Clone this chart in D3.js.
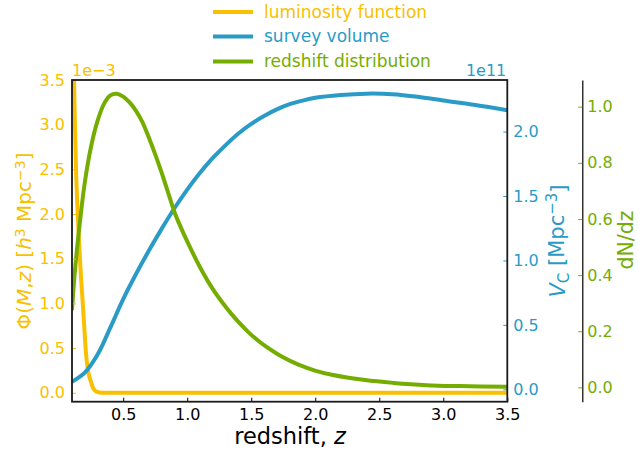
<!DOCTYPE html>
<html>
<head>
<meta charset="utf-8">
<script src="https://cdn.jsdelivr.net/npm/d3@7"></script>
<style>
  body { margin: 0; background: #fff; }
  text { font-family: "DejaVu Sans", sans-serif; }
</style>
</head>
<body>
<svg id="chart" width="638" height="454"></svg>
<script>
// Luminosity function Φ(M, z), in units of 1e-3 h^3 Mpc^-3
const zLum = [0.100, 0.115, 0.133, 0.155, 0.170, 0.186, 0.200, 0.212, 0.230, 0.251, 0.270, 0.303, 0.350, 0.500, 1.000, 2.000, 3.000, 3.500];
const lum  = [4.50, 3.55, 2.42, 1.70, 1.30, 0.96, 0.64, 0.40, 0.21, 0.11, 0.04, 0.006, 0.0, 0.0, 0.0, 0.0, 0.0, 0.0];

// Survey volume V_C, in units of 1e11 Mpc^-3
const zVol = [0.1, 0.2, 0.3, 0.4, 0.5, 0.6, 0.7, 0.8, 0.9, 1.0, 1.1, 1.2, 1.3, 1.4, 1.5, 1.6, 1.7, 1.8, 1.9, 2.0, 2.2, 2.4, 2.6, 2.8, 3.0, 3.25, 3.5];
const vol  = [0.059, 0.13, 0.27, 0.48, 0.70, 0.895, 1.075, 1.245, 1.405, 1.55, 1.68, 1.795, 1.895, 1.985, 2.06, 2.12, 2.172, 2.212, 2.24, 2.262, 2.284, 2.294, 2.29, 2.27, 2.241, 2.206, 2.166];

// Redshift distribution dN/dz
const zDist = [0.10, 0.12, 0.15, 0.20, 0.25, 0.30, 0.35, 0.40, 0.45, 0.50, 0.55, 0.60, 0.65, 0.70, 0.75, 0.80, 0.85, 0.90, 0.95, 1.00, 1.10, 1.20, 1.30, 1.348, 1.40, 1.477, 1.55, 1.608, 1.738, 1.869, 1.998, 2.129, 2.389, 2.61, 2.87, 3.13, 3.50];
const dist  = [0.275, 0.40, 0.54, 0.73, 0.86, 0.95, 1.01, 1.04, 1.046, 1.036, 1.015, 0.985, 0.945, 0.89, 0.83, 0.765, 0.695, 0.625, 0.570, 0.520, 0.428, 0.350, 0.287, 0.260, 0.233, 0.197, 0.168, 0.148, 0.110, 0.081, 0.060, 0.045, 0.026, 0.016, 0.008, 0.0046, 0.002];

// Tick values
const xTicks    = [0.5, 1.0, 1.5, 2.0, 2.5, 3.0, 3.5];
const lumTicks  = [0.0, 0.5, 1.0, 1.5, 2.0, 2.5, 3.0, 3.5];
const volTicks  = [0.0, 0.5, 1.0, 1.5, 2.0];
const distTicks = [0.0, 0.2, 0.4, 0.6, 0.8, 1.0];

const seriesNames = ["luminosity function", "survey volume", "redshift distribution"];
const colors = { lum: "#f8c000", vol: "#2a9bc6", dist: "#74ad00" };

const svg = d3.select("#chart");
const L = 72, R = 507.3, T = 80, B = 401.7;

const x     = d3.scaleLinear().domain([0.1, 3.5]).range([L, R]);
const yLum  = d3.scaleLinear().domain([-0.1, 3.5]).range([B, T]);
const yVol  = d3.scaleLinear().domain([-0.096, 2.40]).range([B, T]);
const yDist = d3.scaleLinear().domain([-0.051, 1.095]).range([B, T]);

svg.append("defs").append("clipPath").attr("id", "plot-clip")
  .append("rect").attr("x", L).attr("y", T).attr("width", R - L).attr("height", B - T);

const plot = svg.append("g").attr("clip-path", "url(#plot-clip)");

function drawSeries(zs, vs, yScale, color) {
  const line = d3.line()
    .x((d, i) => x(zs[i]))
    .y(d => yScale(d))
    .curve(d3.curveCatmullRom.alpha(0.5));
  plot.append("path")
    .datum(vs)
    .attr("d", line)
    .attr("fill", "none")
    .attr("stroke", color)
    .attr("stroke-width", 4)
    .attr("stroke-linejoin", "round");
}
drawSeries(zLum, lum, yLum, colors.lum);
drawSeries(zVol, vol, yVol, colors.vol);
drawSeries(zDist, dist, yDist, colors.dist);

const fmt = d3.format(".1f");

function styleAxis(g, color) {
  g.select(".domain").remove();
  g.selectAll(".tick line").attr("stroke", color).attr("stroke-width", 1);
  g.selectAll(".tick text").attr("fill", color).style("font-size", "16px");
}

// bottom axis
svg.append("g").attr("transform", `translate(0,${B})`)
  .call(d3.axisBottom(x).tickValues(xTicks).tickFormat(fmt).tickSizeInner(-4).tickSizeOuter(0).tickPadding(7))
  .call(g => styleAxis(g, "#000"));

// left axis (luminosity function)
svg.append("g").attr("transform", `translate(${L},0)`)
  .call(d3.axisLeft(yLum).tickValues(lumTicks).tickFormat(fmt).tickSizeInner(-4).tickSizeOuter(0).tickPadding(7))
  .call(g => styleAxis(g, colors.lum));

// right axis (survey volume)
svg.append("g").attr("transform", `translate(${R},0)`)
  .call(d3.axisRight(yVol).tickValues(volTicks).tickFormat(fmt).tickSizeInner(-4).tickSizeOuter(0).tickPadding(6))
  .call(g => styleAxis(g, colors.vol));

// offset right axis (redshift distribution)
const gDist = svg.append("g").attr("transform", "translate(582.3,0)")
  .call(d3.axisRight(yDist).tickValues(distTicks).tickFormat(fmt).tickSizeInner(-4).tickSizeOuter(0).tickPadding(5));
gDist.selectAll(".tick line").attr("stroke", colors.dist);
gDist.selectAll(".tick text").attr("fill", colors.dist).style("font-size", "16px");
gDist.select(".domain").attr("stroke", "#000").attr("stroke-width", 1.2);

// frame
svg.append("rect").attr("x", L).attr("y", T).attr("width", R - L).attr("height", B - T)
  .attr("fill", "none").attr("stroke", "#1a1a1a").attr("stroke-width", 1.8);

// offset texts
svg.append("text").attr("x", L).attr("y", 76).attr("fill", colors.lum)
  .style("font-size", "16px").text("1e\u22123");
svg.append("text").attr("x", R - 1).attr("y", 76).attr("text-anchor", "end").attr("fill", colors.vol)
  .style("font-size", "16px").text("1e11");

// x label
const xl = svg.append("text").attr("x", 290).attr("y", 444).attr("text-anchor", "middle")
  .attr("fill", "#000").style("font-size", "22.5px");
xl.append("tspan").text("redshift, ");
xl.append("tspan").style("font-style", "italic").text("z");

// left label
const ll = svg.append("text").attr("transform", "translate(31,241) rotate(-90)")
  .attr("text-anchor", "middle").attr("fill", colors.lum).style("font-size", "20px");
ll.append("tspan").text("\u03A6(");
ll.append("tspan").style("font-style", "italic").text("M");
ll.append("tspan").text(",");
ll.append("tspan").style("font-style", "italic").text("z");
ll.append("tspan").text(") [");
ll.append("tspan").style("font-style", "italic").text("h");
ll.append("tspan").attr("dy", "-0.45em").style("font-size", "14px").text("3");
ll.append("tspan").attr("dy", "0.315em").text(" Mpc");
ll.append("tspan").attr("dy", "-0.45em").style("font-size", "14px").text("\u22123");
ll.append("tspan").attr("dy", "0.315em").text("]");

// right label (volume)
const rl = svg.append("text").attr("transform", "translate(565,241) rotate(-90)")
  .attr("text-anchor", "middle").attr("fill", colors.vol).style("font-size", "21px");
rl.append("tspan").style("font-style", "italic").text("V");
rl.append("tspan").attr("dy", "0.25em").style("font-size", "15px").text("C");
rl.append("tspan").attr("dy", "-0.25em").text(" [Mpc");
rl.append("tspan").attr("dy", "-0.45em").style("font-size", "15px").text("\u22123");
rl.append("tspan").attr("dy", "0.45em").text("]");

// far right label (distribution)
svg.append("text").attr("transform", "translate(633,240) rotate(-90)")
  .attr("text-anchor", "middle").attr("fill", colors.dist).style("font-size", "20.5px")
  .text("dN/dz");

// legend
const legendColors = [colors.lum, colors.vol, colors.dist];
const legendY = [12, 36.5, 61.5];
const lg = svg.append("g");
seriesNames.forEach((name, i) => {
  lg.append("line").attr("x1", 215).attr("x2", 251).attr("y1", legendY[i]).attr("y2", legendY[i])
    .attr("stroke", legendColors[i]).attr("stroke-width", 4).attr("stroke-linecap", "square");
  lg.append("text").attr("x", 264).attr("y", legendY[i]).attr("dy", "0.35em")
    .attr("fill", legendColors[i]).style("font-size", "17px").text(name);
});
</script>
</body>
</html>
